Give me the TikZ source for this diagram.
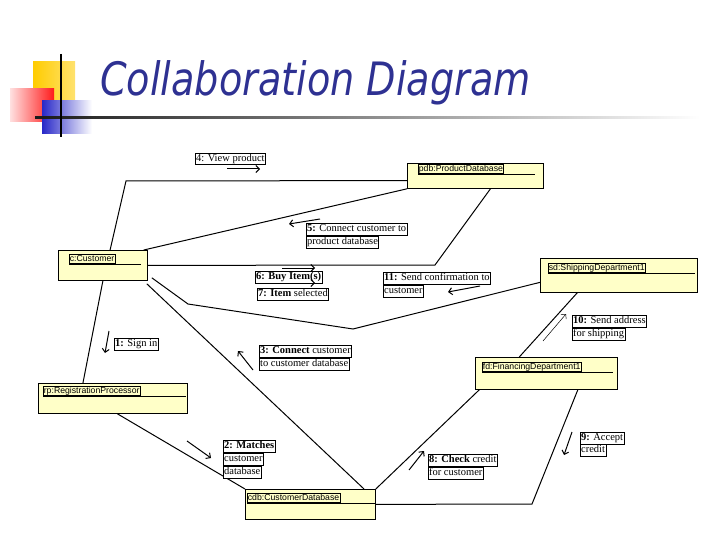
\documentclass[tikz,border=0pt]{standalone}
\usepackage{fontspec}
\usepackage{graphicx}
\setmainfont{Liberation Serif}
\setsansfont{Liberation Sans}
\newfontfamily\titlefont{DejaVu Sans}
\usetikzlibrary{arrows.meta,calc}
\definecolor{objfill}{RGB}{255,255,200}
\definecolor{titleblue}{RGB}{46,49,146}
\begin{document}
\begin{tikzpicture}[x=1pt,y=-1pt,
  obj/.style={draw, fill=objfill, line width=0.8pt, inner sep=0pt, anchor=north west},
  olbl/.style={draw, line width=0.5pt, inner sep=0.6pt, anchor=west, font=\sffamily\fontsize{8.7}{9}\selectfont, text height=6.3pt, text depth=1.8pt},
  msg/.style={draw, fill=white, line width=0.6pt, inner sep=0.8pt, anchor=west, font=\fontsize{10.5}{12}\selectfont, text height=7.6pt, text depth=2.4pt},
  link/.style={line width=1pt},
  marrow/.style={line width=1pt, -{Straight Barb[length=3.5pt,width=7pt]}},
  thinarrow/.style={line width=0.5pt, -{Straight Barb[length=3.5pt,width=7pt]}}]
\useasboundingbox (0,0) rectangle (720,540);

% decoration
\shade[left color={rgb,255:red,255;green,204;blue,0}, right color={rgb,255:red,255;green,226;blue,110}] (33,62) rectangle (75,100);
\shade[left color=red!12, right color=red!90] (10,89) rectangle (54,122);
\shade[left color={rgb,255:red,40;green,40;blue,200}, middle color={rgb,255:red,60;green,60;blue,205}, right color=white] (42,101) rectangle (92,134);
\shade[left color=black!90, right color=white] (35,116.5) rectangle (700,119);
\draw[line width=1.6pt] (61,54) -- (61,137);

\node[anchor=base west, text=titleblue, inner sep=0pt] (title) at (100,96)
  {\scalebox{0.83}[1]{\titlefont\itshape\fontsize{46}{50}\selectfont Collaboration Diagram}};

% objects
\node[obj, minimum width=136pt, minimum height=25pt] (pdb) at (407,163) {};
\node[obj, minimum width=89pt, minimum height=30pt] (cust) at (58,250) {};
\node[obj, minimum width=157pt, minimum height=34pt] (sd) at (540,258) {};
\node[obj, minimum width=142pt, minimum height=32pt] (fd) at (475,357) {};
\node[obj, minimum width=149pt, minimum height=30pt] (rp) at (38,383) {};
\node[obj, minimum width=130pt, minimum height=30pt] (cdb) at (245,489) {};

\node[olbl] (pdbl) at (418,169) {pdb:ProductDatabase};
\draw[line width=0.5pt] (pdbl.south west) -- ++(117,0);
\node[olbl] (custl) at (69,259) {c:Customer};
\draw[line width=0.5pt] (custl.south west) -- ++(72,0);
\node[olbl] (sdl) at (548,268) {sd:ShippingDepartment1};
\draw[line width=0.5pt] (sdl.south west) -- ++(147,0);
\node[olbl] (fdl) at (482,367) {fd:FinancingDepartment1};
\draw[line width=0.5pt] (fdl.south west) -- ++(131,0);
\node[olbl] (rpl) at (43,391) {rp:RegistrationProcessor};
\draw[line width=0.5pt] (rpl.south west) -- ++(143,0);
\node[olbl] (cdbl) at (247,498) {cdb:CustomerDatabase};
\draw[line width=0.5pt] (cdbl.south west) -- ++(128,0);

% connectors
\coordinate (v1) at (126,181);
\draw[link] ($(cust.north west)!0.58!(cust.north east)$) -- (v1) -- ($(pdb.north west)!0.68!(pdb.south west)$);
\draw[link] ($(cust.north east)+(-4,0)$) -- (pdb.south west);
\coordinate (b1) at (435,265);
\draw[link] (cust.east) -- (b1) -- ($(pdb.south west)!0.61!(pdb.south east)$);
\coordinate (s1) at (188,304);
\coordinate (s2) at (353,329);
\draw[link] ($(cust.south east)+(4,-3)$) -- (s1) -- (s2) -- ($(sd.north west)!0.7!(sd.south west)$);
\draw[link] ($(sd.south west)!0.236!(sd.south east)$) -- ($(fd.north west)!0.31!(fd.north east)$);
\draw[link] ($(cust.south west)!0.5!(cust.south east)$) -- ($(rp.north west)!0.3!(rp.north east)$);
\draw[link] ($(cust.south east)+(-1,3)$) -- ($(cdb.north west)!0.91!(cdb.north east)$);
\draw[link] ($(rp.south west)!0.53!(rp.south east)$) -- (cdb.north west);
\draw[link] (cdb.north east) -- ($(fd.south west)!0.03!(fd.south east)$);
\coordinate (f1) at (532,504);
\draw[link] ($(fd.south west)!0.72!(fd.south east)$) -- (f1) -- (cdb.east);

% message labels
\node[msg] (m4) at (195,159) {4: View product};
\node[msg] (m5a) at (306,229) {\textbf{5:} Connect customer to};
\node[msg] (m5b) at (306,242) {product database};
\node[msg] (m6) at (255,277) {\textbf{6: Buy Item(s)}};
\node[msg] (m7) at (257,294) {\textbf{7: Item} selected};
\node[msg] (m11a) at (383,278) {\textbf{11:} Send confirmation to};
\node[msg] (m11b) at (383,291) {customer};
\node[msg] (m10a) at (572,321) {\textbf{10:} Send address};
\node[msg] (m10b) at (572,334) {for shipping};
\node[msg] (m1) at (114,344) {\textbf{1:} Sign in};
\node[msg] (m3a) at (259,351) {\textbf{3: Connect} customer};
\node[msg] (m3b) at (259,364) {to customer database};
\node[msg] (m2a) at (223,446) {\textbf{2: Matches}};
\node[msg] (m2b) at (223,459) {customer};
\node[msg] (m2c) at (223,472) {database};
\node[msg] (m8a) at (428,460) {\textbf{8: Check} credit};
\node[msg] (m8b) at (428,473) {for customer};
\node[msg] (m9a) at (580,438) {\textbf{9:} Accept};
\node[msg] (m9b) at (580,450) {credit};

% message arrows
\coordinate (a4s) at (227,169); \coordinate (a4e) at (260,169);
\coordinate (a5s) at (320,219); \coordinate (a5e) at (289,224);
\coordinate (a6s) at (282,268); \coordinate (a6e) at (315,268);
\coordinate (a7s) at (282,283); \coordinate (a7e) at (315,283);
\coordinate (a11s) at (480,286); \coordinate (a11e) at (448,292);
\coordinate (a10s) at (543,341); \coordinate (a10e) at (566,314);
\coordinate (a1s) at (109,331); \coordinate (a1e) at (105,353);
\coordinate (a3s) at (253,370); \coordinate (a3e) at (238,351);
\coordinate (a2s) at (187,441); \coordinate (a2e) at (211,458);
\coordinate (a8s) at (409,470); \coordinate (a8e) at (424,451);
\coordinate (a9s) at (572,432); \coordinate (a9e) at (564,455);
\draw[marrow] (a4s) -- (a4e);
\draw[marrow] (a5s) -- (a5e);
\draw[marrow] (a6s) -- (a6e);
\draw[marrow] (a7s) -- (a7e);
\draw[marrow] (a11s) -- (a11e);
\draw[thinarrow] (a10s) -- (a10e);
\draw[marrow] (a1s) -- (a1e);
\draw[marrow] (a3s) -- (a3e);
\draw[marrow] (a2s) -- (a2e);
\draw[marrow] (a8s) -- (a8e);
\draw[marrow] (a9s) -- (a9e);
\end{tikzpicture}
\end{document}
